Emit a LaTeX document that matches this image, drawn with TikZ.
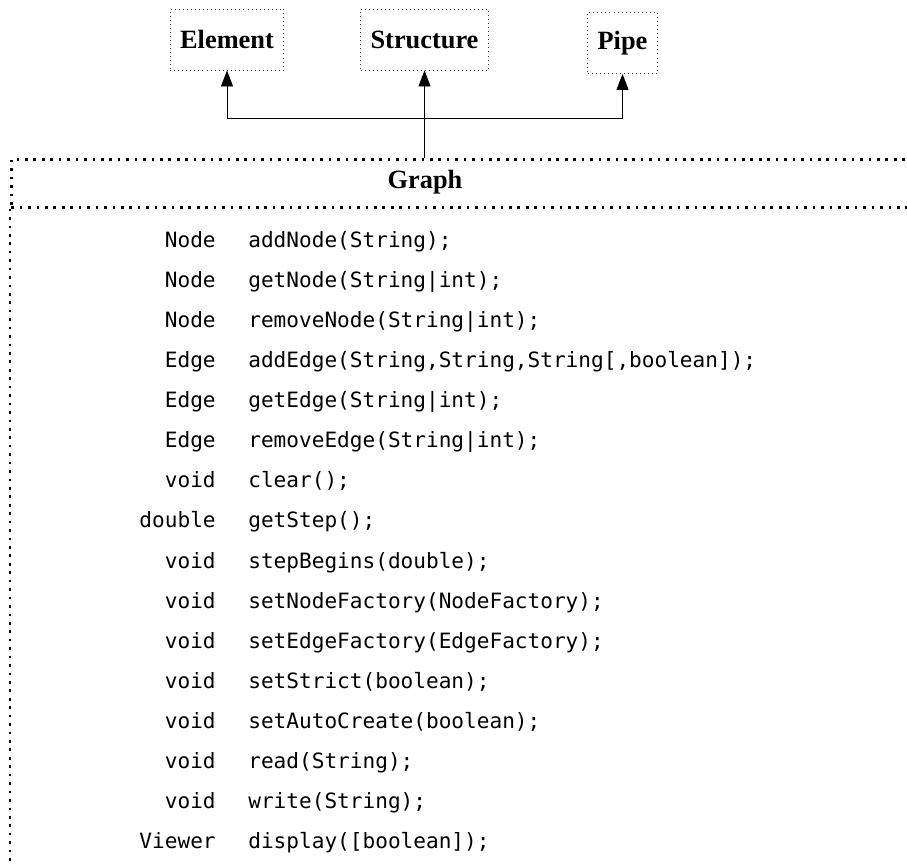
\documentclass[tikz,border=0pt]{standalone}
\usepackage{fontspec}
\setmonofont{DejaVu Sans Mono}
\newfontfamily\headfont{Liberation Serif}
\usetikzlibrary{arrows.meta}

\begin{document}
\begin{tikzpicture}[
  iface/.style={draw=black!75, line width=0.5pt, dash pattern=on 0.5pt off 1.8pt, minimum height=1.22cm, inner xsep=0.2cm, font=\headfont\bfseries\fontsize{15}{17}\selectfont},
  classhead/.style={draw, line width=1.5pt, dash pattern=on 1.5pt off 3.3pt, minimum height=0.96cm, minimum width=19cm, anchor=north west},
  classline/.style={line width=1.5pt, dash pattern=on 1.5pt off 3.3pt},
  title/.style={font=\headfont\bfseries\fontsize{15}{17}\selectfont},
  ret/.style={anchor=base east, inner sep=0pt, font=\ttfamily\fontsize{12}{14}\selectfont},
  meth/.style={anchor=base west, inner sep=0pt, font=\ttfamily\fontsize{12}{14}\selectfont},
  arr/.style={-{Triangle[length=0.32cm,width=0.24cm]}, line width=0.5pt}
]
\clip (0,0) rectangle (18.14,-17.32);

\node[iface, minimum width=2.24cm] (element) at (4.54,-0.79) {Element};
\node[iface, minimum width=2.54cm] (structure) at (8.49,-0.79) {Structure};
\node[iface, minimum width=1.38cm] (pipe) at (12.45,-0.86) {Pipe};

\node[classhead] (graph) at (0.2,-3.16) {};
\node[title] (graphname) at (8.5,-3.64) {Graph};
\draw[classline] (graph.south west) -- ++(0,-14);

\node[ret] (r1) at (4.32,-4.94) {Node};     \node[meth] (m1) at (4.96,-4.94) {addNode(String);};
\node[ret] (r2) at (4.32,-5.74) {Node};     \node[meth] (m2) at (4.96,-5.74) {getNode(String|int);};
\node[ret] (r3) at (4.32,-6.54) {Node};     \node[meth] (m3) at (4.96,-6.54) {removeNode(String|int);};
\node[ret] (r4) at (4.32,-7.35) {Edge};     \node[meth] (m4) at (4.96,-7.35) {addEdge(String,String,String[,boolean]);};
\node[ret] (r5) at (4.32,-8.15) {Edge};     \node[meth] (m5) at (4.96,-8.15) {getEdge(String|int);};
\node[ret] (r6) at (4.32,-8.95) {Edge};     \node[meth] (m6) at (4.96,-8.95) {removeEdge(String|int);};
\node[ret] (r7) at (4.32,-9.75) {void};     \node[meth] (m7) at (4.96,-9.75) {clear();};
\node[ret] (r8) at (4.32,-10.55) {double};  \node[meth] (m8) at (4.96,-10.55) {getStep();};
\node[ret] (r9) at (4.32,-11.36) {void};    \node[meth] (m9) at (4.96,-11.36) {stepBegins(double);};
\node[ret] (r10) at (4.32,-12.16) {void};   \node[meth] (m10) at (4.96,-12.16) {setNodeFactory(NodeFactory);};
\node[ret] (r11) at (4.32,-12.96) {void};   \node[meth] (m11) at (4.96,-12.96) {setEdgeFactory(EdgeFactory);};
\node[ret] (r12) at (4.32,-13.76) {void};   \node[meth] (m12) at (4.96,-13.76) {setStrict(boolean);};
\node[ret] (r13) at (4.32,-14.56) {void};   \node[meth] (m13) at (4.96,-14.56) {setAutoCreate(boolean);};
\node[ret] (r14) at (4.32,-15.37) {void};   \node[meth] (m14) at (4.96,-15.37) {read(String);};
\node[ret] (r15) at (4.32,-16.17) {void};   \node[meth] (m15) at (4.96,-16.17) {write(String);};
\node[ret] (r16) at (4.32,-16.97) {Viewer}; \node[meth] (m16) at (4.96,-16.97) {display([boolean]);};

\coordinate (split) at (8.49,-2.36);
\draw[arr] (graph.north -| structure) -- (structure);
\draw[arr] (split) -| (element);
\draw[arr] (split) -| (pipe);
\end{tikzpicture}
\end{document}
